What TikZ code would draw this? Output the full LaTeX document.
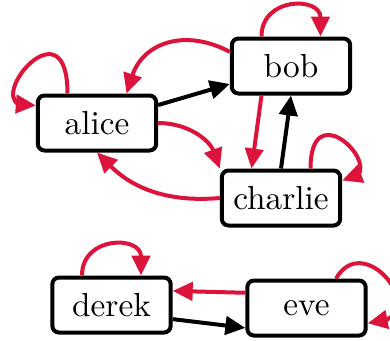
\documentclass[tikz,border=0pt]{standalone}
\usepackage{tikz}
\usetikzlibrary{arrows.meta, bending}
\definecolor{rojoCarmesi}{RGB}{220,20,60}

\begin{document}
\begin{tikzpicture}[x=0.3pt, y=-0.3pt, very thick,
        persona/.style={draw, rounded corners=2pt, minimum width=35.5pt, minimum height=16.5pt, inner sep=0pt},
        flecha/.style={-{Triangle[length=6pt,width=5.5pt,quick]}},
        roja/.style={flecha, rojoCarmesi},
        bucle/.style={-{Triangle[length=6pt,width=5.5pt,flex]}, rojoCarmesi}]
        \useasboundingbox (0,0) rectangle (390,340);

        % Nodos
        \foreach \nombre/\x/\y in {alice/97/123, bob/291/66, charlie/281/198, derek/111.5/305, eve/306.5/308} {
            \node[persona] (\nombre) at (\x,\y) {\nombre};
        }

        % Aristas negras
        \draw[flecha] (alice) -- (bob);
        \draw[flecha] (charlie.north) -- (bob.south);
        \draw[flecha] (derek.347) -- (eve.198);

        % Aristas rojas
        \draw[roja] (bob.167) to[out=152, in=72, looseness=1.2] (alice.45);
        \draw[roja] (alice.east) to[out=0, in=110] (charlie.north west);
        \draw[roja] (charlie.west) to[out=185, in=-45] (alice.south);
        \draw[roja] (bob.225) -- (charlie.135);
        \draw[roja] (eve.166) -- (derek.13);

        % Bucles
        \draw[bucle] (alice.135) to[out=90, in=190, out distance=30pt, in distance=20pt] (alice.164);
        \draw[roja] (bob.135) to[out=90, in=90, distance=12pt] (bob.45);
        \draw[bucle] (charlie.45) to[out=90, in=0, out distance=24.6pt, in distance=16.5pt] (charlie.16);
        \draw[roja] (derek.135) to[out=90, in=90, distance=12pt] (derek.45);
        \draw[bucle] (eve.45) to[out=60, in=0, out distance=18pt, in distance=21pt] (eve.346);
    \end{tikzpicture}
\end{document}
